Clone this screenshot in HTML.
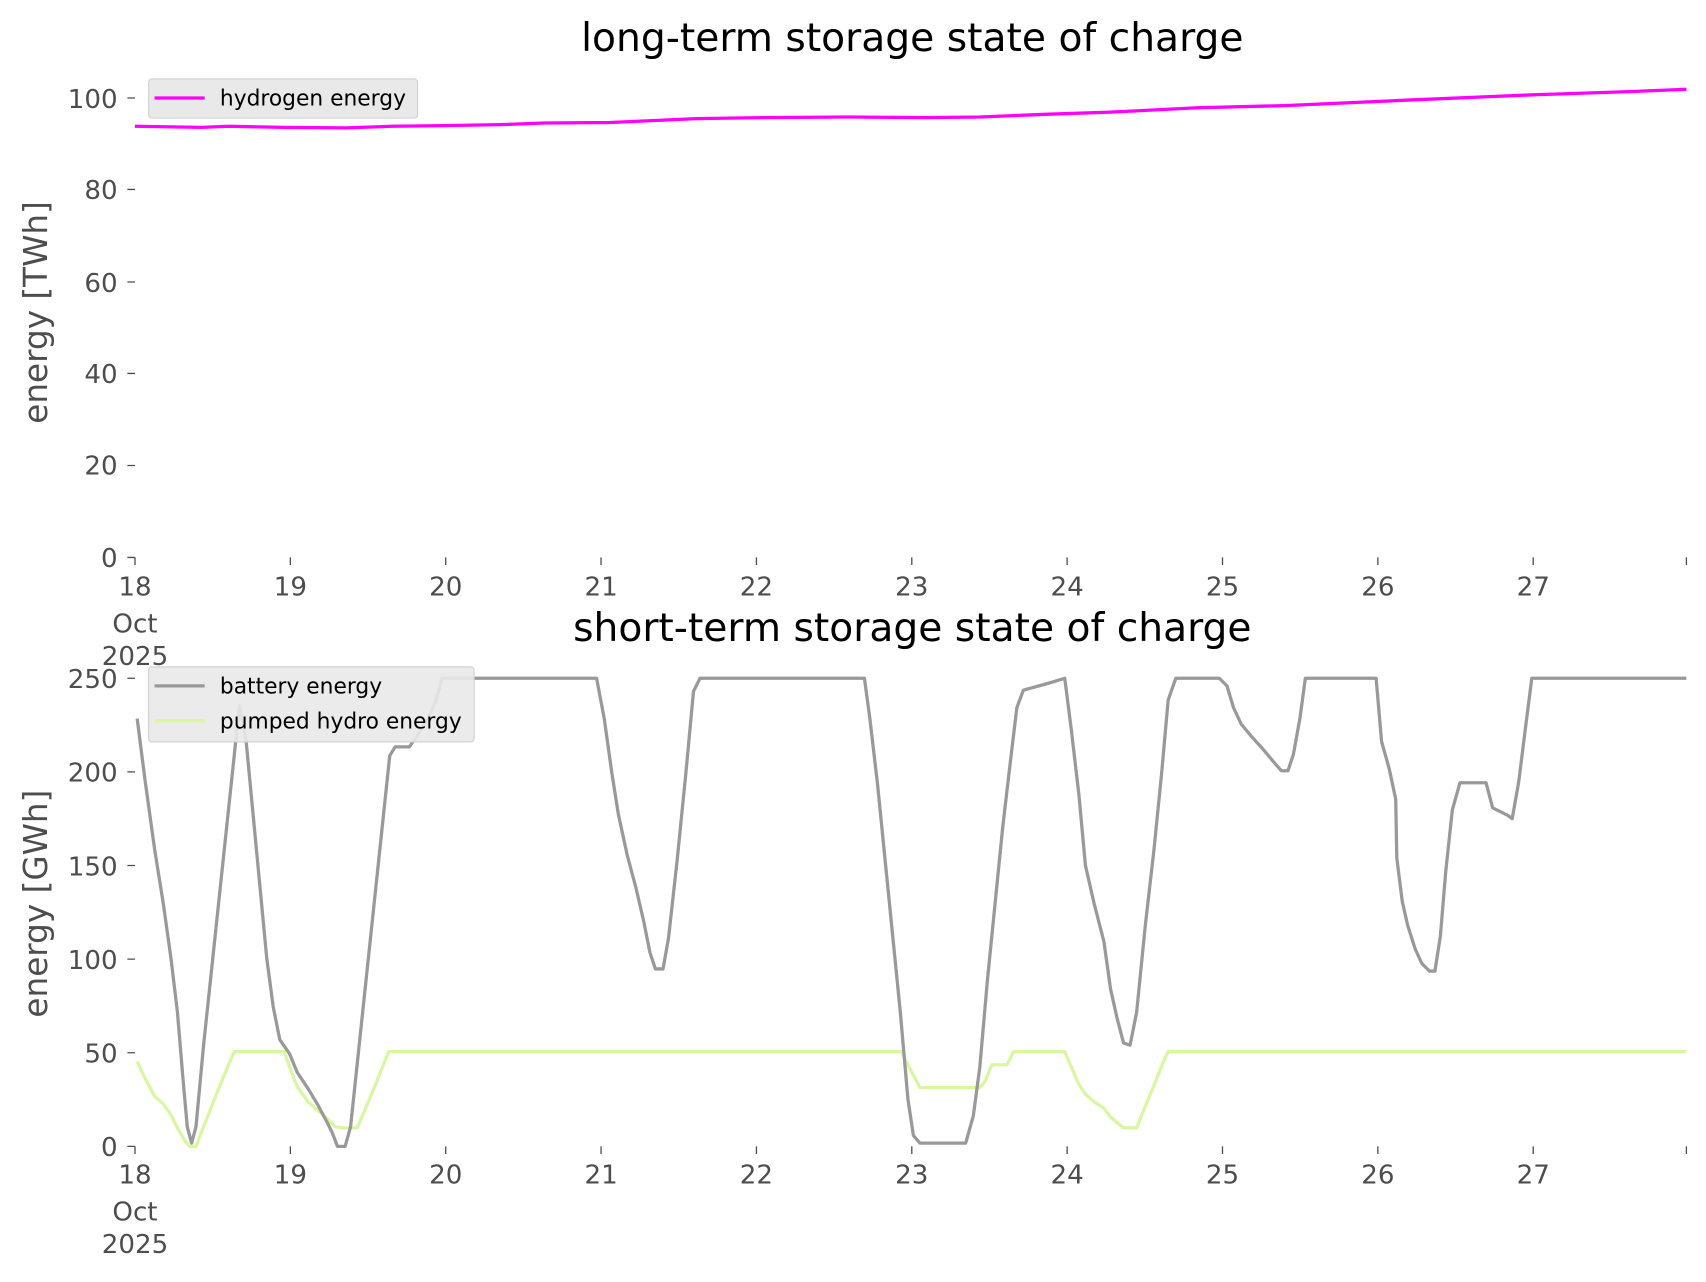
<!DOCTYPE html>
<html><head><meta charset="utf-8"><style>
body{margin:0;background:#fff}
text{font-family:"DejaVu Sans","Liberation Sans",sans-serif}
</style></head><body>
<svg width="1706" height="1277" xmlns="http://www.w3.org/2000/svg">
<g transform="scale(1.0887)">
<g fill="#4d4d4d" font-size="24">
<text x="838" y="47" text-anchor="middle" font-size="36" fill="#000">long-term storage state of charge</text>
<text x="838" y="589" text-anchor="middle" font-size="36" fill="#000">short-term storage state of charge</text>
<text transform="translate(43,287) rotate(-90)" text-anchor="middle" font-size="30">energy [TWh]</text>
<text transform="translate(43,830) rotate(-90)" text-anchor="middle" font-size="30">energy [GWh]</text>
<g text-anchor="end">
<text x="108" y="521">0</text><text x="108" y="436">20</text><text x="108" y="352">40</text><text x="108" y="268">60</text><text x="108" y="183">80</text><text x="108" y="99">100</text>
<text x="108" y="1062">0</text><text x="108" y="976">50</text><text x="108" y="890">100</text><text x="108" y="804">150</text><text x="108" y="718">200</text><text x="108" y="632">250</text>
</g>
<g stroke="#4d4d4d" stroke-width="1.2">
<path d="M117 512h7M117 427.6h7M117 343h7M117 259h7M117 174h7M117 90h7M117 1053h7M117 967h7M117 881h7M117 795h7M117 709h7M117 623h7"/>
<path d="M124 512v7M266.7 512v7M409.4 512v7M552.1 512v7M694.8 512v7M837.5 512v7M980.2 512v7M1122.9 512v7M1265.6 512v7M1408.3 512v7M1549 512v7"/>
<path d="M124 1053v7M266.7 1053v7M409.4 1053v7M552.1 1053v7M694.8 1053v7M837.5 1053v7M980.2 1053v7M1122.9 1053v7M1265.6 1053v7M1408.3 1053v7M1549 1053v7"/>
</g>
<g text-anchor="middle">
<text x="124" y="547">18</text><text x="124" y="581">Oct</text><text x="124" y="611">2025</text>
<text x="266.7" y="547">19</text><text x="409.4" y="547">20</text><text x="552.1" y="547">21</text><text x="694.8" y="547">22</text><text x="837.5" y="547">23</text><text x="980.2" y="547">24</text><text x="1122.9" y="547">25</text><text x="1265.6" y="547">26</text><text x="1408.3" y="547">27</text>
<text x="124" y="1087">18</text><text x="124" y="1121">Oct</text><text x="124" y="1151">2025</text>
<text x="266.7" y="1087">19</text><text x="409.4" y="1087">20</text><text x="552.1" y="1087">21</text><text x="694.8" y="1087">22</text><text x="837.5" y="1087">23</text><text x="980.2" y="1087">24</text><text x="1122.9" y="1087">25</text><text x="1265.6" y="1087">26</text><text x="1408.3" y="1087">27</text>
</g>
</g>
<g fill="none" stroke-width="3" stroke-linejoin="round">
<polyline stroke="#ff00ff" points="124,116 185,117 210,116 260,117 318,117.5 360,116 400,115.5 460,114.5 500,113 560,112.5 640,109 700,108 780,107.5 850,108 900,107.5 960,105 1020,103 1100,99 1180,97 1280,92.5 1410,87 1500,84 1549,82"/>
<polyline stroke="#d8f7a1" points="126,975 133,990 142,1007 150,1014 157,1024 163,1036 170,1048 174,1053 180,1053 187,1035 200,1002 215,966 261,966 266,980 273,998 283,1012 292,1020 300,1027 308,1035 315,1036 328,1036 335,1020 345,996 357,966 828,966 835,980 845,999 900,999 905,993 911,978 925,978 931,966 978,966 984,980 991,996 997,1005 1005,1012 1014,1018 1020,1026 1026,1031 1032,1036 1044,1036 1050,1021 1060,997 1070,972 1073,966 1549,966"/>
<polyline stroke="#999" points="126,660 133,715 142,780 150,830 157,880 163,930 168,990 172,1035 176,1050 180,1035 187,960 220,648 226,680 245,880 251,925 257,955 266,968 273,985 283,1000 292,1015 300,1030 305,1040 310,1053 317,1053 322,1035 358,694 363,686 376,686 383,676 393,660 400,645 406,623 548,623 555,660 562,710 568,748 576,785 584,815 591,845 597,875 602,890 609,890 614,862 622,790 630,710 637,635 643,623 794,623 799,660 806,720 813,790 820,860 827,930 834,1010 839,1043 845,1050 887,1050 894,1025 900,980 907,900 914,830 921,760 928,700 934,650 940,634 965,627 978,623 984,670 991,730 997,795 1005,830 1014,865 1020,908 1026,935 1032,958 1038,960 1044,930 1052,850 1060,780 1067,710 1073,643 1080,623 1120,623 1127,630 1133,650 1140,665 1150,677 1160,688 1170,700 1177,708 1183,708 1188,693 1194,660 1199,623 1264,623 1269,681 1276,706 1282,734 1283,788 1288,828 1293,850 1300,872 1306,885 1313,892 1318,892 1323,860 1328,800 1334,744 1341,719 1365,719 1371,742 1385,749 1389,752 1395,718 1401,670 1407,623 1549,623"/>
</g>
<g font-size="20" fill="#000">
<rect x="136.5" y="72.5" width="247" height="36" rx="3" fill="#e9e9e9" stroke="#d0d0d0"/>
<line x1="142" y1="90" x2="188" y2="90" stroke="#ff00ff" stroke-width="3"/>
<text x="202" y="97">hydrogen energy</text>
<rect x="136.5" y="612.5" width="299" height="69" rx="3" fill="#e9e9e9" fill-opacity="0.9" stroke="#d0d0d0"/>
<line x1="142" y1="630" x2="188" y2="630" stroke="#999" stroke-width="3"/>
<text x="202" y="637">battery energy</text>
<line x1="142" y1="662" x2="188" y2="662" stroke="#d8f7a1" stroke-width="3"/>
<text x="202" y="669">pumped hydro energy</text>
</g>
</g>
</svg>
</body></html>
